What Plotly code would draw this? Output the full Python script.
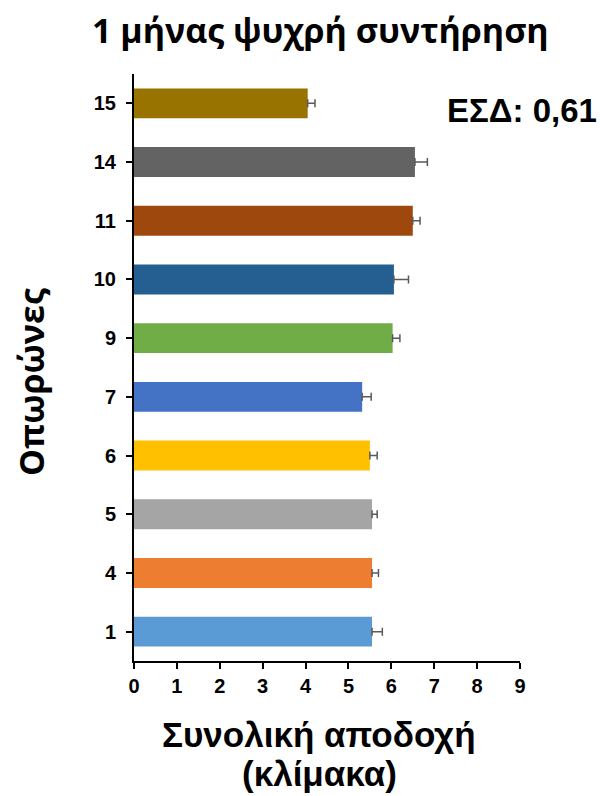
import plotly.graph_objects as go

categories = ["1", "4", "5", "6", "7", "9", "10", "11", "14", "15"]
values = [5.55, 5.55, 5.55, 5.50, 5.32, 6.03, 6.06, 6.50, 6.55, 4.05]
errors = [0.24, 0.15, 0.12, 0.17, 0.21, 0.17, 0.34, 0.17, 0.29, 0.17]
colors = ["#5B9BD5", "#ED7D31", "#A5A5A5", "#FFC000", "#4472C4",
          "#70AD47", "#255E91", "#9E480E", "#636363", "#997300"]
x_ticks = list(range(0, 10))

arial = "Liberation Sans, Arial, sans-serif"
segoe = "Open Sans, sans-serif"

OFF = 8  # page body margin
W, H = 606 - OFF, 796 - OFF
L, T = 134 - OFF, 74 - OFF
R = W - (520 - OFF)
B = H - (661 - OFF)
pw, ph = W - L - R, H - T - B


def px(x):
    return (x - OFF - L) / pw


def py(y):
    return (H - B - (y - OFF)) / ph


fig = go.Figure()
fig.add_trace(go.Bar(
    y=categories, x=values, orientation="h",
    marker=dict(color=colors, line=dict(width=0)),
    width=0.51,
    error_x=dict(type="data", array=errors, symmetric=False, arrayminus=[0] * len(errors),
                 color="#595959", thickness=1.5, width=4),
    showlegend=False,
))

fig.update_layout(
    width=W, height=H,
    margin=dict(l=L, r=R, t=T, b=B),
    plot_bgcolor="white", paper_bgcolor="white",
    font=dict(family=arial, color="black"),
    xaxis=dict(range=[0, 9], tickvals=x_ticks, ticktext=[f"<b>{v}</b>" for v in x_ticks],
               showline=True, linecolor="black", linewidth=2, ticks="outside",
               ticklen=6, tickwidth=2, tickcolor="black", showgrid=False, zeroline=False,
               tickfont=dict(size=20, family=arial), automargin=False),
    yaxis=dict(type="category", categoryorder="array", categoryarray=categories,
               range=[-0.5, 9.5],
               tickvals=categories, ticktext=[f"<b>{c}</b>" for c in categories],
               showline=True, linecolor="black", linewidth=2, ticks="outside",
               ticklen=6, tickwidth=2, tickcolor="black", showgrid=False,
               ticklabelstandoff=6,
               tickfont=dict(size=20, family=arial), automargin=False),
)

fig.add_annotation(text="<b>1 μήνας ψυχρή συντήρηση</b>", x=px(320), y=py(30),
                   xref="paper", yref="paper", xanchor="center", yanchor="middle",
                   showarrow=False, font=dict(size=34, family=segoe, color="black"))
fig.add_annotation(text="<b>Συνολική αποδοχή</b>", x=px(319), y=py(734),
                   xref="paper", yref="paper", xanchor="center", yanchor="middle",
                   showarrow=False, font=dict(size=35, family=arial, color="black"))
fig.add_annotation(text="<b>(κλίμακα)</b>", x=px(319), y=py(773),
                   xref="paper", yref="paper", xanchor="center", yanchor="middle",
                   showarrow=False, font=dict(size=35, family=arial, color="black"))
fig.add_annotation(text="<b>Οπωρώνες</b>", x=px(31), y=py(382), textangle=-90,
                   xref="paper", yref="paper", xanchor="center", yanchor="middle",
                   showarrow=False, font=dict(size=34, family=segoe, color="black"))
fig.add_annotation(text="<b>ΕΣΔ: 0,61</b>", x=px(599), y=py(110),
                   xref="paper", yref="paper", xanchor="right", yanchor="middle",
                   showarrow=False, font=dict(size=33, family=arial, color="black"))

fig.write_html("out.html")
